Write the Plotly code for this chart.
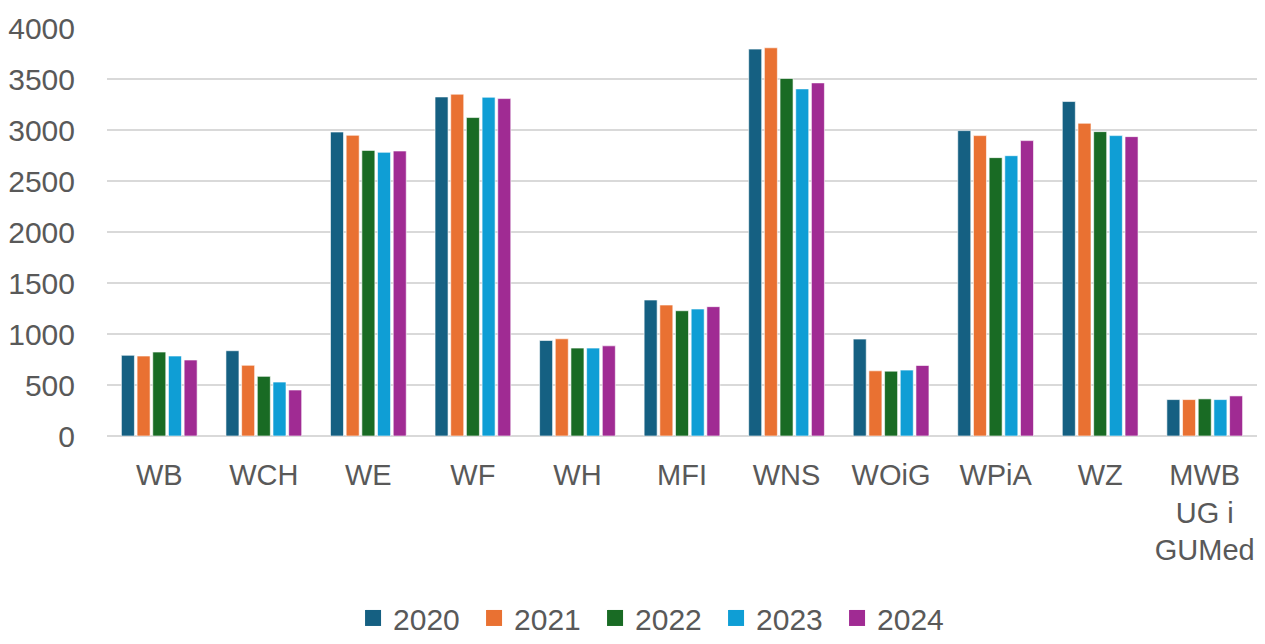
import plotly.graph_objects as go

categories = ["WB", "WCH", "WE", "WF", "WH", "MFI", "WNS", "WOiG", "WPiA", "WZ", "MWB<br>UG i<br>GUMed"]
years = ["2020", "2021", "2022", "2023", "2024"]
v2020 = [791, 836, 2980, 3324, 936, 1333, 3793, 950, 2994, 3279, 357]
v2021 = [784, 693, 2948, 3351, 953, 1284, 3806, 639, 2945, 3066, 357]
v2022 = [823, 585, 2800, 3122, 862, 1228, 3505, 636, 2729, 2984, 364]
v2023 = [784, 529, 2781, 3321, 862, 1245, 3403, 646, 2748, 2945, 357]
v2024 = [745, 451, 2794, 3308, 884, 1268, 3462, 691, 2896, 2935, 393]
series = [v2020, v2021, v2022, v2023, v2024]
colors = ["#156082", "#E97132", "#196B24", "#0F9ED5", "#A02B93"]

fig = go.Figure()
for name, vals, col in zip(years, series, colors):
    fig.add_trace(go.Bar(
        x=categories, y=vals, name=name, showlegend=False, legendgroup=name,
        marker=dict(color=col, line=dict(color="rgba(255,255,255,0.6)", width=1)),
    ))
# legend entries with larger square swatches
for name, col in zip(years, colors):
    fig.add_trace(go.Scatter(
        x=[None], y=[None], mode="markers", name=name, legendgroup=name,
        marker=dict(symbol="square", size=19, color=col),
    ))

font_family = "Liberation Sans, Arial, sans-serif"
fig.update_layout(
    width=1249, height=628,
    paper_bgcolor="white", plot_bgcolor="white",
    barmode="group", bargap=0.25, bargroupgap=0.17,
    margin=dict(l=99, r=0, t=20, b=200, autoexpand=False),
    font=dict(family=font_family, size=30, color="#595959"),
    xaxis=dict(showgrid=False, showline=False, ticks="", ticklabelstandoff=19,
               automargin=False, tickfont=dict(size=29, color="#595959")),
    yaxis=dict(range=[0, 4000], dtick=500, showgrid=True, gridcolor="#d9d9d9", gridwidth=2,
               zeroline=True, zerolinecolor="#d9d9d9", zerolinewidth=2,
               showline=False, ticks="", ticklabelstandoff=31, automargin=False,
               tickfont=dict(size=30, color="#595959")),
    legend=dict(orientation="h", x=0.477, xanchor="center", y=-0.446, yanchor="middle",
                font=dict(size=30, color="#595959"), itemwidth=30, entrywidth=76,
                bgcolor="rgba(0,0,0,0)"),
    showlegend=True,
)

fig.write_html("out.html")
